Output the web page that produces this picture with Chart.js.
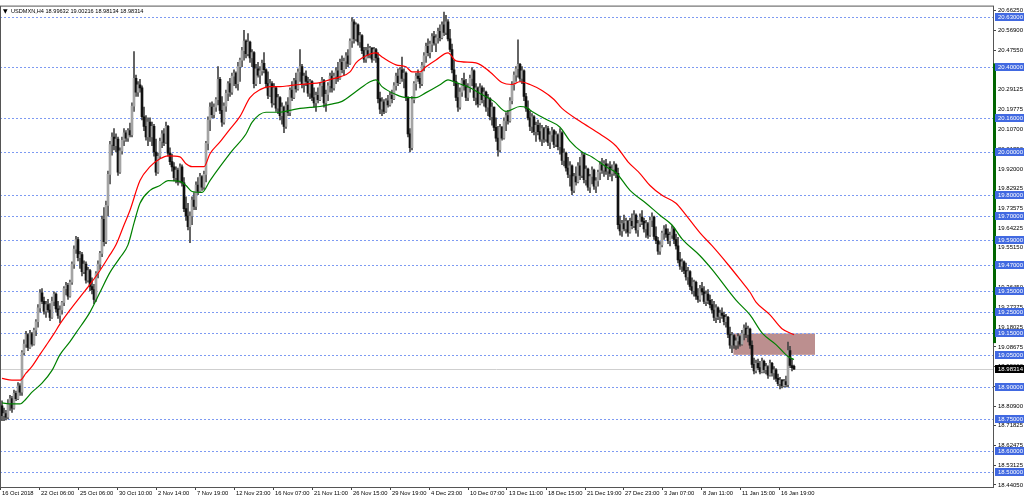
<!DOCTYPE html>
<html>
<head>
<meta charset="utf-8">
<title>USDMXN,H4</title>
<script src="https://cdn.jsdelivr.net/npm/chart.js@4.4.1/dist/chart.umd.min.js"></script>
<style>
  html, body { margin: 0; padding: 0; background: #fff; }
  canvas { display: block; }
</style>
</head>
<body>
<canvas id="chart" width="1024" height="500"></canvas>
<script>
const symbol = 'USDMXN,H4';

// H4 candles, bar 0 = first bar on screen (16 Oct 2018)
const opens = [
  18.811, 18.765, 18.775, 18.758, 18.82, 18.845, 18.80, 18.87, 18.845, 18.905,
  18.875, 19.06, 19.10, 19.145, 19.085, 19.15, 19.10, 19.165, 19.205, 19.27,
  19.34, 19.30, 19.255, 19.285, 19.26, 19.225, 19.30, 19.335, 19.265, 19.235,
  19.26, 19.295, 19.36, 19.375, 19.325, 19.39, 19.475, 19.545, 19.59, 19.505,
  19.52, 19.44, 19.475, 19.40, 19.445, 19.37, 19.355, 19.31, 19.43, 19.475,
  19.525, 19.685, 19.58, 19.75, 19.895, 20.035, 20.07, 20.03, 20.06, 19.905,
  20.005, 20.055, 20.09, 20.065, 20.10, 20.08, 20.215, 20.345, 20.28, 20.315,
  20.30, 20.165, 20.12, 20.07, 20.14, 20.07, 20.12, 20.00, 19.905, 19.98,
  20.05, 20.085, 20.045, 20.12, 19.995, 19.955, 19.93, 19.88, 19.915, 19.86,
  19.93, 19.855, 19.735, 19.70, 19.65, 19.70, 19.775, 19.745, 19.845, 19.815,
  19.885, 19.835, 19.895, 20.04, 20.15, 20.21, 20.175, 20.21, 20.245, 20.34,
  20.195, 20.14, 20.215, 20.275, 20.32, 20.28, 20.355, 20.37, 20.32, 20.40,
  20.43, 20.475, 20.52, 20.46, 20.515, 20.44, 20.465, 20.32, 20.39, 20.36,
  20.38, 20.415, 20.385, 20.32, 20.265, 20.32, 20.23, 20.30, 20.205, 20.255,
  20.17, 20.21, 20.12, 20.22, 20.185, 20.29, 20.255, 20.335, 20.295, 20.375,
  20.40, 20.32, 20.355, 20.33, 20.275, 20.33, 20.255, 20.23, 20.265, 20.245,
  20.31, 20.335, 20.23, 20.27, 20.31, 20.355, 20.30, 20.355, 20.38, 20.345,
  20.42, 20.385, 20.425, 20.45, 20.415, 20.52, 20.61, 20.53, 20.595, 20.515,
  20.545, 20.475, 20.435, 20.475, 20.455, 20.485, 20.435, 20.48, 20.44, 20.25,
  20.20, 20.235, 20.19, 20.24, 20.22, 20.265, 20.25, 20.31, 20.355, 20.325,
  20.385, 20.345, 20.37, 20.255, 20.085, 20.02, 20.245, 20.32, 20.355, 20.345,
  20.32, 20.405, 20.45, 20.495, 20.465, 20.505, 20.54, 20.51, 20.535, 20.565,
  20.535, 20.595, 20.56, 20.61, 20.53, 20.48, 20.385, 20.33, 20.255, 20.21,
  20.28, 20.335, 20.31, 20.255, 20.30, 20.345, 20.38, 20.255, 20.30, 20.225,
  20.30, 20.245, 20.28, 20.21, 20.25, 20.165, 20.21, 20.115, 20.065, 20.01,
  20.115, 20.065, 20.145, 20.17, 20.145, 20.24, 20.315, 20.36, 20.39, 20.41,
  20.345, 20.38, 20.26, 20.205, 20.16, 20.12, 20.165, 20.095, 20.125, 20.095,
  20.06, 20.11, 20.06, 20.11, 20.045, 20.08, 20.10, 20.035, 20.08, 20.025,
  20.09, 19.96, 19.995, 19.925, 19.895, 19.935, 19.82, 19.885, 19.86, 19.935,
  19.89, 19.985, 19.87, 19.92, 19.835, 19.885, 19.915, 19.84, 19.865, 19.905,
  19.94, 19.915, 19.945, 19.91, 19.93, 19.90, 19.92, 19.94, 19.90, 19.66,
  19.63, 19.665, 19.64, 19.675, 19.625, 19.675, 19.655, 19.705, 19.635, 19.665,
  19.695, 19.675, 19.64, 19.665, 19.61, 19.68, 19.695, 19.605, 19.585, 19.535,
  19.565, 19.62, 19.64, 19.615, 19.585, 19.61, 19.64, 19.59, 19.56, 19.495,
  19.465, 19.485, 19.445, 19.415, 19.44, 19.37, 19.35, 19.39, 19.325, 19.31,
  19.36, 19.345, 19.30, 19.335, 19.305, 19.285, 19.26, 19.225, 19.27, 19.23,
  19.245, 19.235, 19.205, 19.225, 19.145, 19.095, 19.14, 19.095, 19.115, 19.135,
  19.10, 19.15, 19.175, 19.145, 19.17, 19.095, 19.005, 18.975, 19.01, 18.99,
  18.97, 19.02, 18.98, 18.995, 18.955, 19.01, 18.965, 18.98, 18.94, 18.915,
  18.93, 18.905, 18.925, 18.91, 19.07, 19.00, 18.99632
];
const highs = [
  18.834, 18.80, 18.79, 18.84, 18.86, 18.855, 18.885, 18.88, 18.92, 18.915,
  19.07, 19.12, 19.16, 19.15, 19.165, 19.155, 19.175, 19.215, 19.285, 19.355,
  19.36, 19.32, 19.30, 19.31, 19.29, 19.32, 19.345, 19.34, 19.30, 19.28,
  19.30, 19.37, 19.39, 19.385, 19.40, 19.485, 19.56, 19.605, 19.60, 19.535,
  19.53, 19.49, 19.485, 19.46, 19.45, 19.41, 19.38, 19.44, 19.49, 19.535,
  19.70, 19.74, 19.77, 19.91, 20.05, 20.09, 20.11, 20.085, 20.07, 20.02,
  20.07, 20.11, 20.10, 20.11, 20.135, 20.23, 20.47, 20.36, 20.33, 20.34,
  20.31, 20.21, 20.17, 20.16, 20.16, 20.14, 20.13, 20.06, 19.995, 20.065,
  20.10, 20.11, 20.14, 20.125, 20.02, 19.99, 19.95, 19.93, 19.925, 19.945,
  19.94, 19.88, 19.79, 19.76, 19.72, 19.79, 19.81, 19.86, 19.88, 19.90,
  19.89, 19.91, 20.05, 20.165, 20.23, 20.235, 20.225, 20.255, 20.40, 20.35,
  20.26, 20.23, 20.29, 20.33, 20.345, 20.37, 20.385, 20.375, 20.42, 20.44,
  20.49, 20.57, 20.525, 20.555, 20.52, 20.48, 20.47, 20.41, 20.42, 20.40,
  20.43, 20.465, 20.39, 20.375, 20.34, 20.33, 20.32, 20.305, 20.27, 20.26,
  20.23, 20.215, 20.235, 20.255, 20.30, 20.33, 20.345, 20.37, 20.39, 20.48,
  20.41, 20.37, 20.38, 20.35, 20.34, 20.335, 20.30, 20.28, 20.30, 20.325,
  20.35, 20.34, 20.29, 20.325, 20.37, 20.38, 20.37, 20.395, 20.42, 20.435,
  20.45, 20.44, 20.465, 20.48, 20.53, 20.63, 20.62, 20.605, 20.60, 20.56,
  20.55, 20.49, 20.49, 20.505, 20.495, 20.49, 20.49, 20.485, 20.465, 20.28,
  20.255, 20.245, 20.25, 20.265, 20.28, 20.29, 20.325, 20.37, 20.39, 20.395,
  20.445, 20.39, 20.375, 20.26, 20.11, 20.26, 20.33, 20.37, 20.385, 20.37,
  20.42, 20.465, 20.51, 20.53, 20.52, 20.555, 20.565, 20.55, 20.58, 20.595,
  20.61, 20.655, 20.64, 20.62, 20.575, 20.505, 20.43, 20.36, 20.32, 20.30,
  20.345, 20.37, 20.34, 20.32, 20.36, 20.395, 20.385, 20.32, 20.305, 20.32,
  20.31, 20.30, 20.285, 20.27, 20.255, 20.23, 20.21, 20.16, 20.12, 20.13,
  20.12, 20.16, 20.185, 20.195, 20.255, 20.33, 20.375, 20.40, 20.525, 20.415,
  20.40, 20.385, 20.275, 20.24, 20.19, 20.18, 20.17, 20.14, 20.15, 20.135,
  20.125, 20.115, 20.125, 20.12, 20.095, 20.115, 20.105, 20.095, 20.085, 20.11,
  20.095, 20.015, 20.00, 19.975, 19.955, 19.94, 19.90, 19.93, 19.95, 19.975,
  20.00, 19.99, 19.935, 19.925, 19.895, 19.93, 19.92, 19.88, 19.915, 19.955,
  19.97, 19.96, 19.965, 19.945, 19.955, 19.94, 19.955, 19.945, 19.925, 19.70,
  19.68, 19.705, 19.69, 19.68, 19.69, 19.71, 19.725, 19.71, 19.68, 19.71,
  19.725, 19.69, 19.68, 19.67, 19.695, 19.715, 19.70, 19.65, 19.60, 19.58,
  19.63, 19.655, 19.66, 19.64, 19.625, 19.655, 19.645, 19.615, 19.60, 19.53,
  19.50, 19.49, 19.48, 19.46, 19.445, 19.41, 19.40, 19.395, 19.36, 19.375,
  19.39, 19.37, 19.35, 19.355, 19.33, 19.31, 19.30, 19.285, 19.275, 19.26,
  19.27, 19.25, 19.24, 19.23, 19.18, 19.155, 19.145, 19.13, 19.15, 19.14,
  19.165, 19.19, 19.20, 19.185, 19.175, 19.115, 19.035, 19.025, 19.03, 19.02,
  19.035, 19.025, 19.01, 19.00, 19.025, 19.015, 18.995, 18.985, 18.96, 18.945,
  18.935, 18.935, 18.95, 19.11, 19.09, 19.03, 19.00216
];
const lows = [
  18.742, 18.742, 18.745, 18.75, 18.79, 18.78, 18.795, 18.835, 18.84, 18.86,
  18.86, 19.05, 19.085, 19.07, 19.08, 19.09, 19.095, 19.14, 19.18, 19.25,
  19.29, 19.24, 19.225, 19.25, 19.21, 19.22, 19.28, 19.25, 19.22, 19.20,
  19.24, 19.28, 19.33, 19.31, 19.32, 19.38, 19.455, 19.525, 19.49, 19.455,
  19.42, 19.43, 19.385, 19.39, 19.35, 19.335, 19.29, 19.30, 19.41, 19.45,
  19.51, 19.56, 19.57, 19.70, 19.85, 19.985, 20.01, 20.00, 19.89, 19.90,
  19.99, 20.03, 20.05, 20.05, 20.07, 20.07, 20.19, 20.26, 20.26, 20.28,
  20.15, 20.10, 20.055, 20.03, 20.05, 20.03, 19.98, 19.89, 19.90, 19.97,
  20.02, 20.03, 20.04, 19.98, 19.94, 19.91, 19.865, 19.855, 19.845, 19.855,
  19.84, 19.72, 19.68, 19.635, 19.575, 19.66, 19.73, 19.73, 19.80, 19.81,
  19.82, 19.825, 19.86, 20.01, 20.10, 20.16, 20.16, 20.19, 20.22, 20.18,
  20.12, 20.13, 20.19, 20.24, 20.26, 20.27, 20.31, 20.30, 20.29, 20.33,
  20.40, 20.43, 20.44, 20.45, 20.42, 20.40, 20.30, 20.31, 20.35, 20.32,
  20.36, 20.37, 20.30, 20.25, 20.26, 20.21, 20.22, 20.19, 20.18, 20.15,
  20.13, 20.09, 20.11, 20.17, 20.17, 20.24, 20.25, 20.28, 20.29, 20.33,
  20.30, 20.28, 20.31, 20.26, 20.25, 20.24, 20.21, 20.19, 20.23, 20.24,
  20.26, 20.21, 20.19, 20.24, 20.28, 20.28, 20.29, 20.32, 20.33, 20.34,
  20.37, 20.36, 20.39, 20.40, 20.41, 20.49, 20.51, 20.52, 20.50, 20.49,
  20.46, 20.42, 20.42, 20.44, 20.44, 20.42, 20.43, 20.42, 20.23, 20.18,
  20.17, 20.18, 20.185, 20.21, 20.215, 20.23, 20.245, 20.29, 20.31, 20.32,
  20.33, 20.30, 20.24, 20.07, 20.00, 20.01, 20.23, 20.29, 20.33, 20.30,
  20.31, 20.38, 20.42, 20.45, 20.44, 20.47, 20.50, 20.47, 20.51, 20.52,
  20.53, 20.545, 20.55, 20.52, 20.47, 20.37, 20.31, 20.24, 20.19, 20.20,
  20.26, 20.29, 20.24, 20.24, 20.28, 20.31, 20.24, 20.22, 20.21, 20.22,
  20.23, 20.215, 20.19, 20.17, 20.15, 20.125, 20.10, 20.05, 19.98, 20.00,
  20.055, 20.06, 20.10, 20.13, 20.14, 20.225, 20.29, 20.33, 20.35, 20.33,
  20.32, 20.24, 20.19, 20.15, 20.10, 20.09, 20.08, 20.05, 20.08, 20.05,
  20.03, 20.045, 20.05, 20.03, 20.015, 20.05, 20.02, 20.025, 20.01, 19.99,
  19.94, 19.935, 19.91, 19.88, 19.84, 19.80, 19.81, 19.845, 19.855, 19.87,
  19.88, 19.855, 19.845, 19.82, 19.81, 19.85, 19.825, 19.81, 19.84, 19.87,
  19.90, 19.885, 19.895, 19.87, 19.885, 19.865, 19.89, 19.88, 19.64, 19.61,
  19.605, 19.63, 19.62, 19.605, 19.62, 19.64, 19.645, 19.62, 19.605, 19.65,
  19.66, 19.625, 19.60, 19.595, 19.605, 19.65, 19.59, 19.57, 19.52, 19.52,
  19.555, 19.59, 19.60, 19.57, 19.56, 19.595, 19.57, 19.545, 19.48, 19.45,
  19.44, 19.43, 19.40, 19.38, 19.355, 19.335, 19.325, 19.31, 19.295, 19.30,
  19.33, 19.29, 19.28, 19.29, 19.27, 19.245, 19.21, 19.20, 19.215, 19.20,
  19.22, 19.19, 19.18, 19.13, 19.08, 19.06, 19.08, 19.075, 19.08, 19.09,
  19.095, 19.12, 19.13, 19.11, 19.08, 18.99, 18.96, 18.965, 18.98, 18.96,
  18.965, 18.965, 18.96, 18.94, 18.95, 18.95, 18.935, 18.925, 18.905, 18.89,
  18.895, 18.90, 18.90, 18.90, 18.99, 18.975, 18.98134
];
const closes = [
  18.765, 18.775, 18.758, 18.82, 18.845, 18.80, 18.87, 18.845, 18.905, 18.875,
  19.06, 19.10, 19.145, 19.085, 19.15, 19.10, 19.165, 19.205, 19.27, 19.34,
  19.30, 19.255, 19.285, 19.26, 19.225, 19.30, 19.335, 19.265, 19.235, 19.26,
  19.295, 19.36, 19.375, 19.325, 19.39, 19.475, 19.545, 19.59, 19.505, 19.52,
  19.44, 19.475, 19.40, 19.445, 19.37, 19.355, 19.31, 19.43, 19.475, 19.525,
  19.685, 19.58, 19.75, 19.895, 20.035, 20.07, 20.03, 20.06, 19.905, 20.005,
  20.055, 20.09, 20.065, 20.10, 20.08, 20.215, 20.345, 20.28, 20.315, 20.30,
  20.165, 20.12, 20.07, 20.14, 20.07, 20.12, 20.00, 19.905, 19.98, 20.05,
  20.085, 20.045, 20.12, 19.995, 19.955, 19.93, 19.88, 19.915, 19.86, 19.93,
  19.855, 19.735, 19.70, 19.65, 19.70, 19.775, 19.745, 19.845, 19.815, 19.885,
  19.835, 19.895, 20.04, 20.15, 20.21, 20.175, 20.21, 20.245, 20.34, 20.195,
  20.14, 20.215, 20.275, 20.32, 20.28, 20.355, 20.37, 20.32, 20.40, 20.43,
  20.475, 20.52, 20.46, 20.515, 20.44, 20.465, 20.32, 20.39, 20.36, 20.38,
  20.415, 20.385, 20.32, 20.265, 20.32, 20.23, 20.30, 20.205, 20.255, 20.17,
  20.21, 20.12, 20.22, 20.185, 20.29, 20.255, 20.335, 20.295, 20.375, 20.40,
  20.32, 20.355, 20.33, 20.275, 20.33, 20.255, 20.23, 20.265, 20.245, 20.31,
  20.335, 20.23, 20.27, 20.31, 20.355, 20.30, 20.355, 20.38, 20.345, 20.42,
  20.385, 20.425, 20.45, 20.415, 20.52, 20.61, 20.53, 20.595, 20.515, 20.545,
  20.475, 20.435, 20.475, 20.455, 20.485, 20.435, 20.48, 20.44, 20.25, 20.20,
  20.235, 20.19, 20.24, 20.22, 20.265, 20.25, 20.31, 20.355, 20.325, 20.385,
  20.345, 20.37, 20.255, 20.085, 20.02, 20.245, 20.32, 20.355, 20.345, 20.32,
  20.405, 20.45, 20.495, 20.465, 20.505, 20.54, 20.51, 20.535, 20.565, 20.535,
  20.595, 20.56, 20.61, 20.53, 20.48, 20.385, 20.33, 20.255, 20.21, 20.28,
  20.335, 20.31, 20.255, 20.30, 20.345, 20.38, 20.255, 20.30, 20.225, 20.30,
  20.245, 20.28, 20.21, 20.25, 20.165, 20.21, 20.115, 20.065, 20.01, 20.115,
  20.065, 20.145, 20.17, 20.145, 20.24, 20.315, 20.36, 20.39, 20.41, 20.345,
  20.38, 20.26, 20.205, 20.16, 20.12, 20.165, 20.095, 20.125, 20.095, 20.06,
  20.11, 20.06, 20.11, 20.045, 20.08, 20.10, 20.035, 20.08, 20.025, 20.09,
  19.96, 19.995, 19.925, 19.895, 19.935, 19.82, 19.885, 19.86, 19.935, 19.89,
  19.985, 19.87, 19.92, 19.835, 19.885, 19.915, 19.84, 19.865, 19.905, 19.94,
  19.915, 19.945, 19.91, 19.93, 19.90, 19.92, 19.94, 19.90, 19.66, 19.63,
  19.665, 19.64, 19.675, 19.625, 19.675, 19.655, 19.705, 19.635, 19.665, 19.695,
  19.675, 19.64, 19.665, 19.61, 19.68, 19.695, 19.605, 19.585, 19.535, 19.565,
  19.62, 19.64, 19.615, 19.585, 19.61, 19.64, 19.59, 19.56, 19.495, 19.465,
  19.485, 19.445, 19.415, 19.44, 19.37, 19.35, 19.39, 19.325, 19.31, 19.36,
  19.345, 19.30, 19.335, 19.305, 19.285, 19.26, 19.225, 19.27, 19.23, 19.245,
  19.235, 19.205, 19.225, 19.145, 19.095, 19.14, 19.095, 19.115, 19.135, 19.10,
  19.15, 19.175, 19.145, 19.17, 19.095, 19.005, 18.975, 19.01, 18.99, 18.97,
  19.02, 18.98, 18.995, 18.955, 19.01, 18.965, 18.98, 18.94, 18.915, 18.93,
  18.905, 18.925, 18.91, 19.07, 19.00, 18.99, 18.98314
];

// moving averages (red = fast, green = slow), read at these bars
const redBars = [0, 5, 9, 12, 15, 19, 22, 26, 29, 34, 39, 44, 49, 54, 57, 61, 64, 69, 74, 79,
  83, 89, 92, 95, 101, 104, 109, 114, 119, 124, 129, 134, 139, 144, 149, 154, 159, 164, 169, 174,
  177, 180, 187, 190, 197, 202, 205, 209, 212, 217, 223, 227, 237, 244, 250, 255, 259, 264, 270, 276,
  280, 289, 299, 307, 313, 319, 324, 330, 337, 342, 349, 355, 363, 369, 374, 377, 384, 390, 396];
const redMA = [18.940, 18.931, 18.931, 18.964, 18.996, 19.052, 19.093, 19.149, 19.195, 19.260,
  19.320, 19.380, 19.445, 19.519, 19.565, 19.658, 19.727, 19.866, 19.931, 19.968,
  19.982, 19.977, 19.945, 19.931, 19.931, 19.992, 20.047, 20.107, 20.167, 20.255,
  20.292, 20.306, 20.306, 20.311, 20.316, 20.320, 20.325, 20.339, 20.352, 20.375,
  20.417, 20.440, 20.464, 20.445, 20.408, 20.399, 20.375, 20.375, 20.399, 20.431,
  20.464, 20.427, 20.417, 20.375, 20.325, 20.316, 20.329, 20.316, 20.288, 20.246,
  20.204, 20.144, 20.084, 20.028, 19.954, 19.899, 19.843, 19.797, 19.760, 19.704,
  19.621, 19.561, 19.473, 19.403, 19.343, 19.297, 19.237, 19.172, 19.144];
const greenBars = [0, 5, 9, 12, 15, 20, 25, 29, 34, 37, 44, 49, 54, 59, 63, 66, 69, 74, 79, 83,
  89, 92, 95, 100, 104, 109, 115, 122, 125, 132, 139, 144, 149, 154, 159, 164, 170, 177, 184, 187,
  190, 197, 202, 207, 212, 219, 223, 227, 234, 240, 246, 252, 259, 262, 265, 272, 279, 284, 290, 295,
  302, 307, 314, 322, 329, 335, 340, 349, 355, 367, 374, 380, 387, 393, 396];
const greenMA = [18.825, 18.820, 18.820, 18.843, 18.875, 18.917, 18.977, 19.051, 19.112, 19.153,
  19.250, 19.343, 19.436, 19.505, 19.565, 19.667, 19.760, 19.820, 19.843, 19.866,
  19.862, 19.843, 19.815, 19.811, 19.866, 19.931, 20.005, 20.084, 20.139, 20.186,
  20.186, 20.195, 20.204, 20.209, 20.213, 20.223, 20.237, 20.283, 20.329, 20.338,
  20.306, 20.269, 20.255, 20.255, 20.278, 20.315, 20.338, 20.325, 20.301, 20.269,
  20.237, 20.190, 20.213, 20.209, 20.190, 20.153, 20.116, 20.051, 20.000, 19.977,
  19.931, 19.903, 19.820, 19.760, 19.704, 19.658, 19.593, 19.514, 19.450, 19.306,
  19.237, 19.153, 19.098, 19.042, 19.028];

// horizontal levels drawn on the chart
const levels = [20.63, 20.40, 20.16, 20.00, 19.80, 19.70, 19.59, 19.47, 19.35, 19.25,
  19.15, 19.05, 18.90, 18.75, 18.60, 18.50];

// price scale ticks
const priceTicks = [20.6625, 20.569, 20.4755, 20.38475, 20.29125, 20.19775, 20.107, 20.0135,
  19.92, 19.82925, 19.73575, 19.64225, 19.5515, 19.458, 19.3645, 19.27375, 19.18025, 19.08675,
  18.996, 18.9025, 18.809, 18.71825, 18.62475, 18.53125, 18.4405];

// time scale labels and the bar they sit on
const timeLabels = ['16 Oct 2018', '22 Oct 06:00', '25 Oct 06:00', '30 Oct 10:00', '2 Nov 14:00',
  '7 Nov 19:00', '12 Nov 23:00', '16 Nov 07:00', '21 Nov 11:00', '26 Nov 15:00', '29 Nov 19:00',
  '4 Dec 23:00', '10 Dec 07:00', '13 Dec 11:00', '18 Dec 15:00', '21 Dec 19:00', '27 Dec 23:00',
  '3 Jan 07:00', '8 Jan 11:00', '11 Jan 15:00', '16 Jan 19:00'];
const timeLabelBars = [-1, 18.5, 38, 57.5, 77, 96.5, 116, 135.5, 155, 174.5, 194, 213.5, 233,
  252.5, 272, 291.5, 310.5, 330, 349.5, 369, 388.5];

// rectangle zone (bars, prices) and the green range bar on the price scale
const zoneBars = [365.7, 406.5];
const zonePrices = [19.05, 19.15];
const rangeBar = [19.105, 20.415];

const last = closes.length - 1;
const FONT = "'Liberation Sans', Arial, sans-serif";

const bodies = opens.map((o, i) => ({ x: i, y: [o, closes[i]] }));
const wicks = lows.map((l, i) => ({ x: i, y: [l, highs[i]] }));
const redPts = redBars.map((b, k) => ({ x: b, y: redMA[k] }));
const greenPts = greenBars.map((b, k) => ({ x: b, y: greenMA[k] }));

const overlay = {
  id: 'overlay',
  beforeDatasetsDraw(chart) {
    const { ctx, chartArea: a, scales: { x, y } } = chart;
    ctx.save();
    // zone
    const zx0 = x.getPixelForValue(zoneBars[0]);
    const zx1 = x.getPixelForValue(zoneBars[1]);
    const zy0 = y.getPixelForValue(zonePrices[1]);
    const zy1 = y.getPixelForValue(zonePrices[0]);
    ctx.fillStyle = '#bc8f8f';
    ctx.fillRect(zx0, zy0, zx1 - zx0, zy1 - zy0);
    // dashed levels
    ctx.strokeStyle = '#7d9af2';
    ctx.lineWidth = 1;
    ctx.setLineDash([2, 2]);
    levels.forEach(v => {
      const py = Math.round(y.getPixelForValue(v)) + 0.5;
      ctx.beginPath();
      ctx.moveTo(a.left, py);
      ctx.lineTo(a.right, py);
      ctx.stroke();
    });
    // bid line
    ctx.setLineDash([]);
    ctx.strokeStyle = '#cfcfcf';
    const by = Math.round(y.getPixelForValue(closes[last])) + 0.5;
    ctx.beginPath();
    ctx.moveTo(a.left, by);
    ctx.lineTo(a.right, by);
    ctx.stroke();
    ctx.restore();
  },
  afterDraw(chart) {
    const { ctx, chartArea: a, scales: { y } } = chart;
    ctx.save();
    // frame
    ctx.strokeStyle = '#555';
    ctx.lineWidth = 1;
    ctx.strokeRect(a.left + 0.5, a.top + 0.5, a.right - a.left, a.bottom - a.top);
    // green range bar on the price scale
    const gy0 = y.getPixelForValue(rangeBar[1]);
    const gy1 = y.getPixelForValue(rangeBar[0]);
    ctx.fillStyle = '#006400';
    ctx.fillRect(a.right, gy0, 3, gy1 - gy0);
    // level labels
    ctx.font = '6px ' + FONT;
    ctx.textBaseline = 'middle';
    ctx.textAlign = 'left';
    levels.forEach(v => {
      const py = Math.round(y.getPixelForValue(v));
      ctx.fillStyle = '#4169e1';
      ctx.fillRect(a.right + 2, py - 4, 1024 - a.right - 2, 8);
      ctx.fillStyle = '#fff';
      ctx.fillText(v.toFixed(5), a.right + 5, py + 0.5);
    });
    // bid label
    const by = Math.round(y.getPixelForValue(closes[last]));
    ctx.fillStyle = '#000';
    ctx.fillRect(a.right + 2, by - 4, 1024 - a.right - 2, 8);
    ctx.fillStyle = '#fff';
    ctx.fillText(closes[last].toFixed(5), a.right + 5, by + 0.5);
    // title
    ctx.fillStyle = '#000';
    ctx.font = '6px DejaVu Sans';
    ctx.fillText('\u25BC', a.left + 3, a.top + 6);
    ctx.font = '5.6px ' + FONT;
    const title = symbol + ' ' + [opens[last], highs[last], lows[last], closes[last]]
      .map(v => v.toFixed(5)).join(' ');
    ctx.fillText(title, a.left + 11, a.top + 6);
    ctx.restore();
  }
};

new Chart(document.getElementById('chart'), {
  type: 'bar',
  data: {
    datasets: [
      { type: 'line', label: 'MA fast', data: redPts, borderColor: '#ff0000', borderWidth: 1.2,
        pointRadius: 0, cubicInterpolationMode: 'monotone', order: 0 },
      { type: 'line', label: 'MA slow', data: greenPts, borderColor: '#008000', borderWidth: 1.2,
        pointRadius: 0, cubicInterpolationMode: 'monotone', order: 0 },
      { label: 'body', data: bodies, barThickness: 2, grouped: false, minBarLength: 1,
        backgroundColor: c => closes[c.dataIndex] >= opens[c.dataIndex] ? '#a4a4a4' : '#111111',
        order: 1 },
      { label: 'wick', data: wicks, barThickness: 1, grouped: false,
        backgroundColor: '#454545', order: 2 }
    ]
  },
  options: {
    responsive: false,
    animation: false,
    devicePixelRatio: 1,
    events: [],
    layout: { padding: 0 },
    plugins: { legend: { display: false }, tooltip: { enabled: false } },
    scales: {
      x: {
        type: 'linear', min: -1, max: 495.5, offset: false,
        grid: { display: true, offset: false, drawOnChartArea: false, drawTicks: true,
          tickLength: 3, color: '#444' },
        border: { display: false },
        afterBuildTicks: s => { s.ticks = timeLabelBars.map(v => ({ value: v })); },
        afterFit: s => { s.height = 13; },
        ticks: { autoSkip: false, maxRotation: 0, minRotation: 0, align: 'start',
          labelOffset: 2, padding: 0, color: '#000', font: { family: FONT, size: 5.8 },
          callback: (v, i) => timeLabels[i] }
      },
      y: {
        type: 'linear', position: 'right', min: 18.4309, max: 20.6856, beginAtZero: false,
        grid: { display: true, drawOnChartArea: false, drawTicks: true, tickLength: 3, color: '#444' },
        border: { display: false },
        afterBuildTicks: s => { s.ticks = priceTicks.map(v => ({ value: v })); },
        afterFit: s => { s.width = 31; },
        ticks: { autoSkip: false, padding: 2, color: '#000', font: { family: FONT, size: 6 },
          callback: v => Number(v).toFixed(5) }
      }
    }
  },
  plugins: [overlay]
});
</script>
</body>
</html>
